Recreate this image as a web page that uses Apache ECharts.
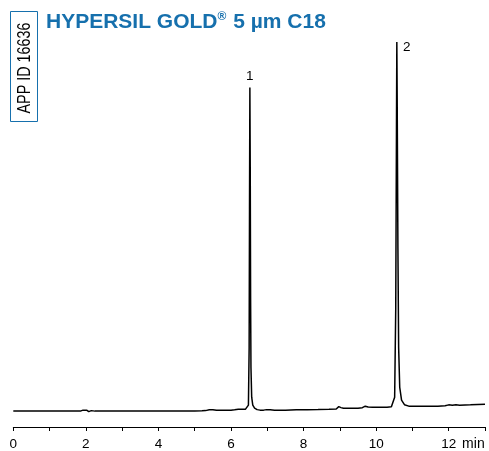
<!DOCTYPE html>
<html>
<head>
<meta charset="utf-8">
<script src="https://cdn.jsdelivr.net/npm/echarts@6/dist/echarts.min.js"></script>
<style>
html,body{margin:0;padding:0;background:#fff;}
#chart{width:489px;height:451px;}
</style>
</head>
<body>
<div id="chart"></div>
<script>
// Retention time (min)
var times = [0, 0.5, 1.0, 1.5, 1.85, 1.92, 1.97, 2.02, 2.08, 2.15, 2.25, 2.6, 3.0, 3.5, 4.0, 4.5, 5.0, 5.2, 5.3, 5.4, 5.45, 5.5, 5.6, 5.65, 5.7, 5.8, 5.9, 6.0, 6.1, 6.2, 6.3, 6.4, 6.45, 6.48, 6.50, 6.51, 6.52, 6.53, 6.54, 6.55, 6.57, 6.60, 6.65, 6.72, 6.8, 6.9, 6.98, 7.02, 7.08, 7.2, 7.5, 7.8, 8.1, 8.4, 8.7, 8.9, 8.97, 9.03, 9.1, 9.3, 9.5, 9.62, 9.7, 9.78, 9.9, 10.1, 10.3, 10.42, 10.47, 10.51, 10.54, 10.56, 10.57, 10.58, 10.60, 10.62, 10.65, 10.70, 10.78, 10.9, 11.1, 11.4, 11.7, 11.9, 12.0, 12.1, 12.2, 12.3, 12.6, 13.0];
// Detector signal (arbitrary units)
var signal = [16, 16, 16, 16, 16, 17, 15.5, 17, 15.5, 16.5, 16, 16, 16, 16, 16, 16, 16, 16.3, 16.5, 17.3, 16.5, 17.3, 16.8, 17.5, 16.8, 17, 17, 17, 17.3, 17.8, 17.8, 18, 18.5, 22, 80, 220, 342, 260, 130, 60, 30, 22, 19, 17.5, 17, 17, 17.5, 18.5, 17.3, 17, 17, 17.3, 17.5, 17.6, 17.8, 18.2, 20.5, 19.5, 18.8, 18.8, 19, 19.5, 21, 20.2, 19.8, 19.8, 20, 20.3, 21.5, 30, 120, 300, 388, 330, 180, 80, 40, 27, 22.5, 21, 20.8, 20.8, 21, 21.5, 22.3, 21.8, 22.3, 22, 22.3, 23];
// Peak annotations
var peakNames = ['1', '2'];
var peakTimes = [6.52, 10.57];
var peakHeights = [342, 388];
// Axis
var xTickLabels = ['0', '2', '4', '6', '8', '10', '12'];

var blue = '#1670ad';
var chart = echarts.init(document.getElementById('chart'), null, {renderer: 'canvas'});

var lineData = times.map(function (t, i) { return [t, signal[i]]; });

var option = {
  animation: false,
  backgroundColor: '#fff',
  title: {
    left: 46,
    top: 11,
    padding: 0,
    text: '{a|HYPERSIL GOLD}{s|®}{a| 5 µm C18}',
    textStyle: {
      rich: {
        a: {fontFamily: 'Liberation Sans, Arial, sans-serif', fontWeight: 'bold', fontSize: 21, color: blue, lineHeight: 22},
        s: {fontFamily: 'Liberation Sans, Arial, sans-serif', fontWeight: 'bold', fontSize: 12, color: blue, verticalAlign: 'top', lineHeight: 12, padding: [0, 1, 0, 0]}
      }
    }
  },
  graphic: [
    {
      type: 'rect',
      shape: {x: 10.5, y: 11.5, width: 27, height: 110},
      style: {fill: 'none', stroke: blue, lineWidth: 1}
    },
    {
      type: 'text',
      x: 25, y: 68,
      rotation: Math.PI / 2,
      scaleX: 0.82,
      style: {
        text: 'APP ID 16636',
        fontFamily: 'Liberation Sans, Arial, sans-serif',
        fontSize: 17.5,
        fill: '#000',
        align: 'center',
        verticalAlign: 'middle'
      }
    }
  ],
  grid: {left: 13.3, right: 4, top: 30, bottom: 21, containLabel: false},
  xAxis: {
    type: 'value',
    min: 0, max: 13, interval: 1,
    name: 'min',
    nameLocation: 'end',
    nameGap: -23,
    nameTextStyle: {fontFamily: 'Liberation Sans, Arial, sans-serif', fontSize: 14, color: '#000', align: 'left', verticalAlign: 'top', padding: [10, 0, 0, 0]},
    axisLine: {show: true, onZero: false, lineStyle: {color: '#000', width: 1}},
    axisTick: {show: true, length: 4, lineStyle: {color: '#000', width: 1}},
    splitLine: {show: false},
    axisLabel: {
      color: '#000', fontSize: 13.5, margin: 10,
      fontFamily: 'Liberation Sans, Arial, sans-serif',
      formatter: function (v) {
        var s = String(v);
        return xTickLabels.indexOf(s) >= 0 ? s : '';
      }
    }
  },
  yAxis: {
    type: 'value', min: 0, max: 400, show: false
  },
  series: [{
    type: 'line',
    data: lineData,
    showSymbol: false,
    symbol: 'none',
    lineStyle: {color: '#000', width: 1.5},
    markPoint: {
      symbol: 'circle',
      symbolSize: 0,
      label: {show: true, color: '#000', fontSize: 13.5, fontFamily: 'Liberation Sans, Arial, sans-serif', position: 'inside'},
      data: peakNames.map(function (n, i) {
        return {
          coord: [peakTimes[i], peakHeights[i]],
          value: n,
          label: {formatter: n, offset: i === 0 ? [0, -11] : [10, 5]}
        };
      })
    }
  }]
};
chart.setOption(option);
</script>
</body>
</html>
